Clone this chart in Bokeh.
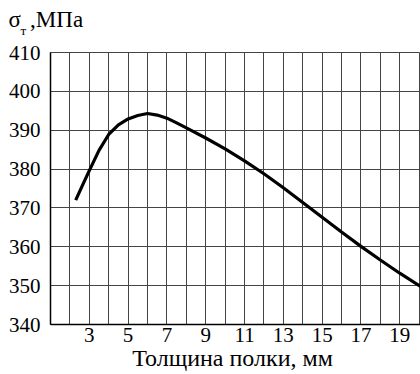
from bokeh.plotting import figure
from bokeh.models import FixedTicker, Range1d, Label
from bokeh.embed import file_html
from bokeh.resources import INLINE

# thickness of flange (mm) and yield strength (MPa)
thickness = [2.3, 2.7, 3.0, 3.5, 4.0, 4.5, 5.0, 5.5, 6.0, 6.5, 7.0, 7.5, 8.0, 9.0,
             10.0, 11.0, 12.0, 13.0, 14.0, 15.0, 16.0, 17.0, 18.0, 19.0, 20.07]
sigma_t = [372.0, 376.4, 379.6, 384.8, 388.9, 391.4, 392.9, 393.8, 394.3, 393.9,
           393.1, 391.9, 390.6, 388.0, 385.2, 382.1, 378.8, 375.2, 371.4, 367.6,
           363.8, 360.1, 356.6, 353.2, 349.8]

x_ticks = [3, 5, 7, 9, 11, 13, 15, 17, 19]
x_grid = list(range(2, 21))
y_ticks = [340, 350, 360, 370, 380, 390, 400, 410]

FONT = "Liberation Serif"

p = figure(width=420, height=374, output_backend="svg", toolbar_location=None,
           x_range=Range1d(1, 20.07), y_range=Range1d(340, 410),
           min_border_left=50, min_border_right=0, min_border_top=52,
           min_border_bottom=50)

p.background_fill_color = "white"
p.border_fill_color = "white"
p.outline_line_color = "#444444"
p.outline_line_width = 1

p.xaxis.ticker = FixedTicker(ticks=x_ticks)
p.yaxis.ticker = FixedTicker(ticks=y_ticks)
p.xgrid.ticker = FixedTicker(ticks=x_grid)
p.ygrid.ticker = FixedTicker(ticks=y_ticks)
p.xgrid.grid_line_color = "#444444"
p.ygrid.grid_line_color = "#444444"
p.xgrid.grid_line_width = 1
p.ygrid.grid_line_width = 1

for ax in (p.xaxis, p.yaxis):
    ax.major_tick_out = 0
    ax.major_tick_in = 0
    ax.minor_tick_out = 0
    ax.minor_tick_in = 0
    ax.axis_line_color = "black"
    ax.axis_line_width = 1.5
    ax.major_label_text_font = FONT
    ax.major_label_text_font_size = "21px"
    ax.major_label_text_color = "black"

p.yaxis.major_label_standoff = 10
p.xaxis.major_label_standoff = 3
p.xaxis.axis_label = "Толщина полки,  мм"
p.xaxis.axis_label_text_font = FONT
p.xaxis.axis_label_text_font_size = "24px"
p.xaxis.axis_label_text_font_style = "normal"
p.xaxis.axis_label_text_color = "black"
p.xaxis.axis_label_standoff = 0

p.line(thickness, sigma_t, line_color="black", line_width=3.2)

# y-axis title: σт, МПа (with subscript т)
p.add_layout(Label(x=-30, y=22, x_units="screen", y_units="screen", text="т",
                   text_font=FONT, text_font_size="13px",
                   text_baseline="alphabetic", text_color="black"), "above")
p.add_layout(Label(x=-42, y=18, x_units="screen", y_units="screen",
                   text="σ\u2009\u2009,МПа",
                   text_font=FONT, text_font_size="23px",
                   text_baseline="alphabetic", text_color="black"), "above")

open("out.html", "w").write(file_html(p, INLINE))
